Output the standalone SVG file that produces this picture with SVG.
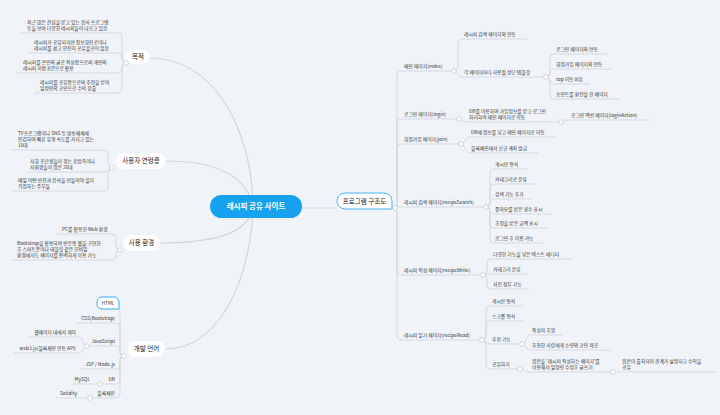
<svg xmlns="http://www.w3.org/2000/svg" width="720" height="415" viewBox="0 0 720 415">
<style>
.ln{fill:none;stroke:#d3d7dc;stroke-width:0.9}
.mln{fill:none;stroke:#d3d7dc;stroke-width:1.2}
.dot{fill:#fff;stroke:#c9cdd2;stroke-width:0.8}
.t{font-family:"Noto Sans CJK KR","Noto Sans",sans-serif;font-size:4.8px;fill:#333}
.e{text-anchor:end}
.m{font-family:"Noto Sans CJK KR","Noto Sans",sans-serif;font-size:6.5px;fill:#222;text-anchor:middle}
.pill{fill:#fff}
</style>
<rect width="720" height="415" fill="#f0f3f7"/>
<g id="connectors">
<path class="mln" d="M149,58 C215,58 250,130 253,200"/>
<path class="mln" d="M166,161 C215,161 245,175 253,205"/>
<path class="mln" d="M160,243 C210,243 245,235 253,210"/>
<path class="mln" d="M165,349 C215,349 248,290 253,212"/>
<path class="mln" d="M302,208 H337"/>
<path class="mln" d="M392,208.5 H395"/>
<!-- 목적 -->
<path class="ln" d="M126,63 Q122,63 122,59 V37 Q122,33 118,33 H20"/>
<path class="ln" d="M126,63 Q122,63 122,59 V57 Q122,53 118,53 H29"/>
<path class="ln" d="M126,63 Q122,63 122,67 V69 Q122,73 118,73 H17"/>
<path class="ln" d="M126,63 Q122,63 122,67 V89 Q122,93 118,93 H34"/>
<!-- 사용자 연령층 -->
<path class="ln" d="M112,168 Q108,168 108,164 V154 Q108,150 104,150 H12"/>
<path class="ln" d="M112,168 C108,168 108,172 104,172 H27"/>
<path class="ln" d="M112,168 Q108,168 108,172 V187 Q108,191 104,191 H12"/>
<!-- 사용 환경 -->
<path class="ln" d="M120,250 Q116,250 116,246 V238 Q116,234 112,234 H57"/>
<path class="ln" d="M120,250 Q116,250 116,254 V256 Q116,260 112,260 H12"/>
<!-- 개발 언어 -->
<path class="ln" d="M124,356 Q120,356 120,352 V312 Q120,309 117,309"/>
<path class="ln" d="M124,356 Q120,356 120,352 V327 Q120,323 116,323 H77"/>
<path class="ln" d="M124,356 Q120,356 120,352 V350 Q120,346 116,346 H87"/>
<path class="ln" d="M124,356 Q120,356 120,360 V365 Q120,369 116,369 H81"/>
<path class="ln" d="M124,356 Q120,356 120,360 V380 Q120,384 116,384 H100"/>
<path class="ln" d="M124,356 Q120,356 120,360 V394 Q120,398 116,398 H90"/>
<path class="ln" d="M87,346 C83,346 83,337 79,337 H27"/>
<path class="ln" d="M87,346 C83,346 83,353 79,353 H14"/>
<path class="ln" d="M100,384 H72"/>
<path class="ln" d="M90,398 H56"/>
<!-- right trunk -->
<path class="ln" d="M395,208 Q397,208 397,204 V75 Q397,71 401,71 H454"/>
<path class="ln" d="M395,208 Q397,208 397,204 V123 Q397,119 401,119 H459"/>
<path class="ln" d="M395,208 Q397,208 397,204 V148 Q397,144 401,144 H461"/>
<path class="ln" d="M395,208 C397,208 397,207 401,207 H486"/>
<path class="ln" d="M395,208 Q397,208 397,212 V271 Q397,275 401,275 H483"/>
<path class="ln" d="M395,208 Q397,208 397,212 V336 Q397,340 401,340 H482"/>
<!-- 메인 -->
<path class="ln" d="M454,71 Q458,71 458,67 V43 Q458,39 462,39 H527"/>
<path class="ln" d="M454,71 C458,71 458,77 462,77 H546"/>
<path class="ln" d="M546,77 Q550,77 550,73 V58 Q550,54 554,54 H607"/>
<path class="ln" d="M546,77 C550,77 550,69 554,69 H612"/>
<path class="ln" d="M546,77 C550,77 550,84 554,84 H590"/>
<path class="ln" d="M546,77 Q550,77 550,81 V95 Q550,99 554,99 H619"/>
<!-- 로그인 -->
<path class="ln" d="M459,119 C463,119 463,122 467,122 H561"/>
<path class="ln" d="M561,122 C565,122 565,120 569,120 H650"/>
<!-- 회원가입 -->
<path class="ln" d="M461,144 C465,144 465,137 469,137 H557"/>
<path class="ln" d="M461,144 C465,144 465,153 469,153 H538"/>
<!-- 검색 -->
<path class="ln" d="M486,207 Q490,207 490,203 V173 Q490,169 494,169 H528"/>
<path class="ln" d="M486,207 Q490,207 490,203 V188 Q490,184 494,184 H535"/>
<path class="ln" d="M486,207 C490,207 490,199 494,199 H533"/>
<path class="ln" d="M486,207 C490,207 490,214 494,214 H552"/>
<path class="ln" d="M486,207 Q490,207 490,211 V224 Q490,228 494,228 H548"/>
<path class="ln" d="M486,207 Q490,207 490,211 V239 Q490,243 494,243 H543"/>
<!-- 작성 -->
<path class="ln" d="M483,275 Q487,275 487,271 V263 Q487,259 491,259 H573"/>
<path class="ln" d="M483,275 C487,275 487,274 491,274 H527"/>
<path class="ln" d="M483,275 Q487,275 487,279 V285 Q487,289 491,289 H529"/>
<!-- 읽기 -->
<path class="ln" d="M482,340 Q486,340 486,336 V310 Q486,306 490,306 H523"/>
<path class="ln" d="M482,340 Q486,340 486,336 V325 Q486,321 490,321 H523"/>
<path class="ln" d="M482,340 C486,340 486,344 490,344 H522"/>
<path class="ln" d="M482,340 Q486,340 486,344 V365 Q486,369 490,369 H520"/>
<path class="ln" d="M522,344 C526,344 526,335 530,335 H562"/>
<path class="ln" d="M522,344 C526,344 526,350 530,350 H611"/>
<path class="ln" d="M520,369 C524,369 524,372 528,372 H613"/>
<path class="ln" d="M613,372 H716"/>
<!-- junction dots -->
<circle class="dot" cx="126" cy="63" r="2.3"/>
<circle class="dot" cx="112" cy="168" r="2.3"/>
<circle class="dot" cx="120" cy="250" r="2.3"/>
<circle class="dot" cx="124" cy="356" r="2.3"/>
<circle class="dot" cx="87" cy="346" r="2.3"/>
<circle class="dot" cx="100" cy="384" r="2.3"/>
<circle class="dot" cx="90" cy="398" r="2.3"/>
<circle class="dot" cx="395" cy="208" r="2.3"/>
<circle class="dot" cx="454" cy="71" r="2.3"/>
<circle class="dot" cx="546" cy="77" r="2.3"/>
<circle class="dot" cx="459" cy="119" r="2.3"/>
<circle class="dot" cx="561" cy="122" r="2.3"/>
<circle class="dot" cx="461" cy="144" r="2.3"/>
<circle class="dot" cx="486" cy="207" r="2.3"/>
<circle class="dot" cx="483" cy="275" r="2.3"/>
<circle class="dot" cx="482" cy="340" r="2.3"/>
<circle class="dot" cx="522" cy="344" r="2.3"/>
<circle class="dot" cx="520" cy="369" r="2.3"/>
<circle class="dot" cx="613" cy="372" r="2.3"/>
</g>
<g id="center">
<rect x="210" y="195" width="92" height="23" rx="11.5" fill="#17a2f0"/>
<text x="256" y="209.3" font-family="'Noto Sans CJK KR','Noto Sans',sans-serif" font-size="7.5" font-weight="bold" fill="#fff" text-anchor="middle">레시피 공유 사이트</text>
</g>
<g id="structure">
<path d="M345,193 H384 A8,8 0 0 1 392,201 V209 H345 A8,8 0 0 1 337,201 A8,8 0 0 1 345,193 Z" fill="#fff" stroke="#4ab2f3" stroke-width="1"/>
<text class="m" x="364.5" y="203.6">프로그램 구조도</text>
</g>
<g id="purpose">
<rect class="pill" x="126" y="49" width="24" height="15" rx="7.5"/>
<text class="m" x="138" y="58.8">목적</text>
<text class="t" x="27" y="24">최근 많은 관심을 받고 있는 음식 프로그램<tspan x="27" dy="6">등을 보며 다양한 레시피들이 나오고 있음</tspan></text>
<text class="t" x="34" y="44">레시피가 공유되지만 정보화된곳이나<tspan x="34" dy="6">레시피를 쉽고 안전히 공유할곳이 없음</tspan></text>
<text class="t" x="23" y="64">레시피를 본인의 글로 작성함으로써 개인의<tspan x="23" dy="6">레시피 저장공간으로 활용</tspan></text>
<text class="t" x="40" y="84">레시피를 공유함으로써 추천을 받아<tspan x="40" dy="6">일정량의 코인으로 수익 창출</tspan></text>
</g>
<g id="users">
<rect class="pill" x="116" y="153" width="50" height="16" rx="8"/>
<text class="m" x="141" y="163.3">사용자 연령층</text>
<text class="t" x="18" y="135">TV프로그램이나 SNS 등 방송매체에<tspan x="18" dy="6">민감하여 빠른 유행 속도를 가지고 있는</tspan><tspan x="18" dy="6">10대</tspan></text>
<text class="t" x="30" y="163">사회 초년생들이 겪는 혼밥족이나<tspan x="30" dy="6">자취생들이 많은 20대</tspan></text>
<text class="t" x="18" y="182">매일 어떤 반찬과 음식을 만들어야 할지<tspan x="18" dy="6">걱정하는 주부들</tspan></text>
</g>
<g id="env">
<rect class="pill" x="123" y="235" width="37" height="16" rx="8"/>
<text class="m" x="141.5" y="245.3">사용 환경</text>
<text class="t" x="62" y="231">PC를 활용한 Web 환경</text>
<text class="t" x="17" y="245">Bootstrap을 활용하여 반응형 웹을 구현한<tspan x="17" dy="6">후 스마트폰이나 태블릿 같은 모바일</tspan><tspan x="17" dy="6">환경에서도 페이지를 완벽하게 이용 가능</tspan></text>
</g>
<g id="lang">
<rect class="pill" x="128" y="341" width="37" height="16" rx="8"/>
<text class="m" x="146.5" y="351.3">개발 언어</text>
<path d="M102,297 H114 A5,5 0 0 1 119,302 V309 H102 A5,5 0 0 1 97,304 V302 A5,5 0 0 1 102,297 Z" fill="#fff" stroke="#3aa7f0" stroke-width="1"/>
<text class="t" x="108" y="305" text-anchor="middle">HTML</text>
<text class="t e" x="115" y="320">CSS(Bootstrap)</text>
<text class="t e" x="115" y="343">JavaScript</text>
<text class="t e" x="76" y="334">웹페이지 내에서 제어</text>
<text class="t e" x="76" y="350">web3.js(블록체인 연동 API)</text>
<text class="t e" x="115" y="366">JSP / Node.js</text>
<text class="t e" x="115" y="381">DB</text>
<text class="t e" x="90" y="381">MySQL</text>
<text class="t e" x="115" y="395">블록체인</text>
<text class="t e" x="77" y="395">Solidity</text>
</g>
<g id="main-page">
<text class="t" x="404" y="68">메인 페이지(index)</text>
<text class="t" x="464" y="36">레시피 검색 페이지와 연동</text>
<text class="t" x="464" y="74">각 페이지마다 사용될 상단 템플릿</text>
<text class="t" x="556" y="51">로그인 페이지와 연동</text>
<text class="t" x="556" y="66">회원가입 페이지와 연동</text>
<text class="t" x="556" y="81">top 이동 버튼</text>
<text class="t" x="556" y="96">포인트를 환전할 한 페이지</text>
</g>
<g id="login-page">
<text class="t" x="404" y="116">로그인 페이지(login)</text>
<text class="t" x="469" y="113">DB를 이용하여 가입정보를 받고 로그인<tspan x="469" dy="6">처리하여 메인 페이지로 이동</tspan></text>
<text class="t" x="571" y="117">로그인 액션 페이지(loginAction)</text>
</g>
<g id="join-page">
<text class="t" x="404" y="141">회원가입 페이지(join)</text>
<text class="t" x="471" y="134">DB에 정보를 넣고 메인 페이지로 이동</text>
<text class="t" x="471" y="150">블록체인에서 신규 계좌 발급</text>
</g>
<g id="search-page">
<text class="t" x="404" y="204">레시피 검색 페이지(recipeSearch)</text>
<text class="t" x="495" y="166">게시판 형식</text>
<text class="t" x="495" y="181">카테고리로 분류</text>
<text class="t" x="495" y="196">검색 기능 추가</text>
<text class="t" x="495" y="211">좋아요를 받은 횟수 표시</text>
<text class="t" x="495" y="225">후원을 받은 금액 표시</text>
<text class="t" x="495" y="240">로그인 후 이용 가능</text>
</g>
<g id="write-page">
<text class="t" x="404" y="272">레시피 작성 페이지(recipeWrite)</text>
<text class="t" x="493" y="256">다양한 기능을 넣은 텍스트 에디터</text>
<text class="t" x="493" y="271">카테고리 분류</text>
<text class="t" x="493" y="286">사진 첨부 기능</text>
</g>
<g id="read-page">
<text class="t" x="404" y="337">레시피 읽기 페이지(recipeRead)</text>
<text class="t" x="492" y="303">게시판 형식</text>
<text class="t" x="492" y="318">스크롤 형식</text>
<text class="t" x="492" y="341">추천 기능</text>
<text class="t" x="532" y="332">작성자 후원</text>
<text class="t" x="532" y="347">추천한 사람에게 소량의 코인 제공</text>
<text class="t" x="492" y="366">공유하기</text>
<text class="t" x="532" y="363">원본을 '레시피 작성하는 페이지'를<tspan x="532" dy="6">이용해서 일정량 수정후 글쓰기</tspan></text>
<text class="t" x="622" y="363">원본이 출처되어 관계가 설정되고 수익을<tspan x="622" dy="6">공유</tspan></text>
</g>
</svg>
